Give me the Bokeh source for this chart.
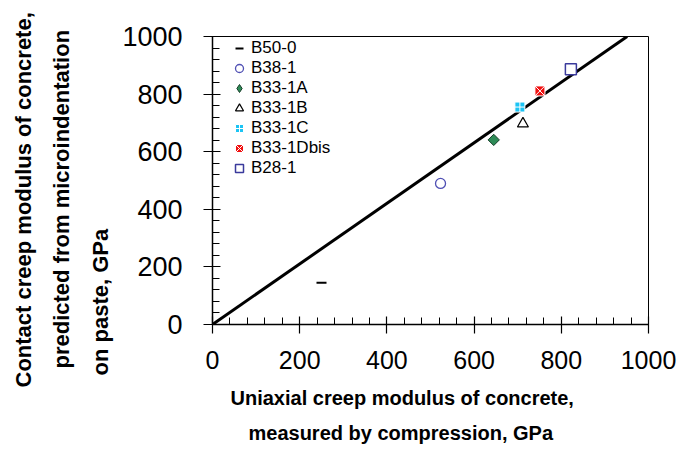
import math
from bokeh.plotting import figure
from bokeh.models import Range1d, Legend, LegendItem, FixedTicker, Title
from bokeh.embed import file_html
from bokeh.resources import INLINE

# ---- data ----
samples = ["B50-0", "B38-1", "B33-1A", "B33-1B", "B33-1C", "B33-1Dbis", "B28-1"]
uniaxial = [250, 523, 645, 712, 705, 751, 822]      # GPa (x)
contact = [145, 490, 641, 697, 755, 811, 886]       # GPa (y)
fit_x = [0, 951]
fit_y = [0, 1000]
tick_values = [0, 200, 400, 600, 800, 1000]
minor_values = list(range(0, 1001, 40))
x_label_lines = ["Uniaxial creep modulus of concrete,", "measured by compression, GPa"]
y_label_lines = ["Contact creep modulus of concrete,", "predicted from microindentation", "on paste, GPa"]

FONT = "Liberation Sans"

p = figure(width=682, height=452, output_backend="svg", toolbar_location=None,
           x_range=Range1d(0, 1000), y_range=Range1d(0, 1000),
           min_border_left=212, min_border_right=34, min_border_top=36, min_border_bottom=128)
p.grid.visible = False
p.outline_line_color = "black"
p.outline_line_width = 1
p.background_fill_color = "white"
p.border_fill_color = "white"

for ax in (p.xaxis[0], p.yaxis[0]):
    ax.ticker = FixedTicker(ticks=tick_values, minor_ticks=minor_values)
    ax.axis_line_color = "black"
    ax.axis_line_width = 1.5
    ax.major_tick_line_color = "black"
    ax.minor_tick_line_color = "black"
    ax.major_tick_line_width = 1.2
    ax.minor_tick_line_width = 1
    ax.major_tick_in = 8
    ax.major_tick_out = 9
    ax.minor_tick_in = 7
    ax.minor_tick_out = 0
    ax.major_label_text_font = FONT
    ax.major_label_text_color = "black"

p.xaxis.major_label_text_font_size = "25px"
p.xaxis.major_label_standoff = 17
p.yaxis.major_label_text_font_size = "27px"
p.yaxis.major_label_standoff = 21

# reference line
p.line(fit_x, fit_y, line_width=3, line_color="black")

# each entry: list of marker layers; the flagged layer (if any) is the one shown in the legend
styles = {
    "B50-0": [dict(marker="dash", size=10, line_color="black", line_width=2)],
    "B38-1": [dict(marker="circle", size=10, fill_color="white", line_color="#5050b4", line_width=1.3)],
    "B33-1A": [dict(marker="diamond", size=8, fill_color="#2e8b57", line_color="#163d28", line_width=1),
               dict(marker="square", angle=math.pi / 4, size=8, fill_color="#2e8b57", line_color="#163d28", line_width=1)],
    "B33-1B": [dict(marker="triangle", size=11, fill_color="white", line_color="black", line_width=1.2)],
    "B33-1C": [dict(marker="square_cross", size=10, fill_color="#1cc4f4", line_color="white", line_width=1)],
    "B33-1Dbis": [dict(marker="square_x", size=10, fill_color="#f01010", line_color="white", line_width=1)],
    "B28-1": [dict(marker="square", size=11, fill_color="white", line_color="#3a3a9c", line_width=1.5)],
}

items = []
for name, xv, yv in zip(samples, uniaxial, contact):
    rs = [p.scatter([xv], [yv], **st) for st in styles[name]]
    items.append(LegendItem(label=name, renderers=[rs[0]]))

legend = Legend(items=items, location=(17, 146), border_line_color=None,
                background_fill_alpha=0, label_text_font=FONT, label_text_font_size="17px",
                label_text_color="black",
                glyph_width=20, glyph_height=20, label_height=20, spacing=0,
                padding=1, margin=0, label_standoff=2)
p.add_layout(legend)

# x-axis title: two stacked lines below the axis
xt1 = Title(text=x_label_lines[0], align="left", offset=18, vertical_align="bottom", standoff=26,
            text_font=FONT, text_font_style="bold", text_font_size="20px", text_color="black")
xt2 = Title(text=x_label_lines[1], align="left", offset=36, vertical_align="top", standoff=0,
            text_font=FONT, text_font_style="bold", text_font_size="20px", text_color="black")
p.add_layout(xt1, "below")
p.add_layout(xt2, "below")

# y-axis title: three stacked lines left of the axis (innermost first)
yt3 = Title(text=y_label_lines[2], align="left", offset=-51, vertical_align="bottom", standoff=14,
            text_font=FONT, text_font_style="bold", text_font_size="22px", text_color="black")
yt2 = Title(text=y_label_lines[1], align="left", offset=-44, vertical_align="bottom", standoff=10,
            text_font=FONT, text_font_style="bold", text_font_size="22px", text_color="black")
yt1 = Title(text=y_label_lines[0], align="left", offset=-63, vertical_align="bottom", standoff=12,
            text_font=FONT, text_font_style="bold", text_font_size="22px", text_color="black")
p.add_layout(yt3, "left")
p.add_layout(yt2, "left")
p.add_layout(yt1, "left")

open("out.html", "w").write(file_html(p, INLINE))
